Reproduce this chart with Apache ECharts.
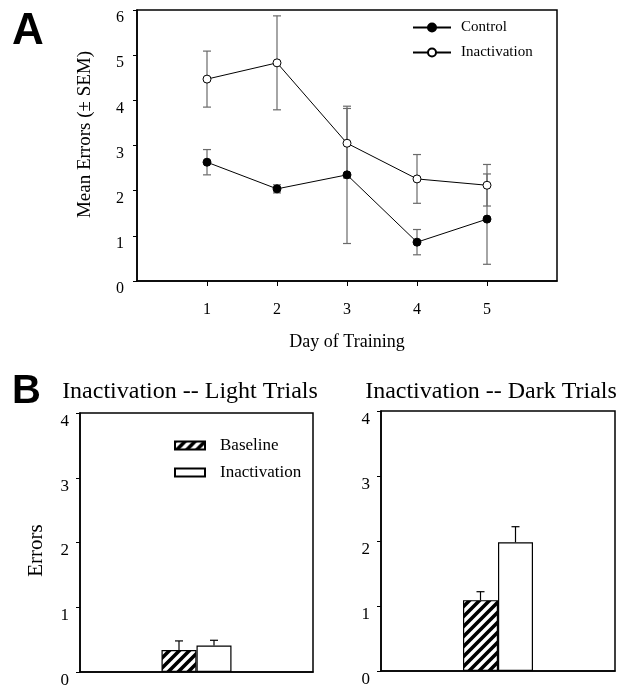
<!DOCTYPE html>
<html><head><meta charset="utf-8">
<script src="https://cdn.jsdelivr.net/npm/echarts@6/dist/echarts.min.js"></script>
<style>html,body{margin:0;padding:0;background:#fff}#c{width:622px;height:689px}</style>
</head><body><div id="c"></div>
<script>
// ---- Data ----
const days = [1, 2, 3, 4, 5];
const controlMean = [2.63, 2.04, 2.35, 0.86, 1.37];
const controlSEM  = [0.28, 0.09, 1.52, 0.28, 1.00];
const inactMean   = [4.47, 4.83, 3.05, 2.26, 2.12];
const inactSEM    = [0.62, 1.04, 0.77, 0.54, 0.46];
const yTicksA = [0, 1, 2, 3, 4, 5, 6];
const xTicksA = [1, 2, 3, 4, 5];
const yTicksB = [0, 1, 2, 3, 4];

const lightCategory = ['Light'];
const lightBaseline = [0.34];
const lightBaselineSEM = [0.14];
const lightInact = [0.41];
const lightInactSEM = [0.08];

const darkCategory = ['Dark'];
const darkBaseline = [1.09];
const darkBaselineSEM = [0.13];
const darkInact = [1.98];
const darkInactSEM = [0.24];

// ---- Styling ----
const SERIF = "'Liberation Serif', 'Times New Roman', serif";
const SANS = "'Liberation Sans', Arial, sans-serif";
const BAR_W = 35;

function hatch() {
  const c = document.createElement('canvas');
  c.width = 10; c.height = 10;
  const g = c.getContext('2d');
  g.fillStyle = '#fff'; g.fillRect(0, 0, 10, 10);
  g.strokeStyle = '#000'; g.lineWidth = 3.6; g.lineCap = 'square';
  [[-5, 5, 5, -5], [0, 10, 10, 0], [5, 15, 15, 5]].forEach(l => {
    g.beginPath(); g.moveTo(l[0], l[1]); g.lineTo(l[2], l[3]); g.stroke();
  });
  return c;
}
const hatchFill = { image: hatch(), repeat: 'repeat' };

function errA(params, api) {
  const x = api.value(0), m = api.value(1), s = api.value(2);
  const t = api.coord([x, m + s]), b = api.coord([x, m - s]);
  const hw = 4, st = { stroke: '#6a6a6a', lineWidth: 1.2 };
  return { type: 'group', children: [
    { type: 'line', shape: { x1: t[0], y1: t[1], x2: b[0], y2: b[1] }, style: st },
    { type: 'line', shape: { x1: t[0] - hw, y1: t[1], x2: t[0] + hw, y2: t[1] }, style: st },
    { type: 'line', shape: { x1: b[0] - hw, y1: b[1], x2: b[0] + hw, y2: b[1] }, style: st }
  ]};
}
function errB(dx) {
  return function (params, api) {
    const c = api.value(0), m = api.value(1), s = api.value(2);
    const p = api.coord([c, m]), t = api.coord([c, m + s]);
    const x = p[0] + dx, hw = 4, st = { stroke: '#000', lineWidth: 1.2 };
    return { type: 'group', children: [
      { type: 'line', shape: { x1: x, y1: p[1], x2: x, y2: t[1] }, style: st },
      { type: 'line', shape: { x1: x - hw, y1: t[1], x2: x + hw, y2: t[1] }, style: st }
    ]};
  };
}

const axisLineBlack = { show: true, lineStyle: { color: '#000', width: 1.5 } };
const gridCommon = { show: true, borderColor: '#000', borderWidth: 1.5, backgroundColor: 'transparent' };

function yAxisB(gridIndex, name) {
  return {
    type: 'value', gridIndex, min: 0, max: 4, interval: 1,
    name: name, nameLocation: 'middle', nameGap: 33,
    nameTextStyle: { fontFamily: SERIF, fontSize: 21, color: '#000', padding: [0, 16, 0, 0] },
    axisLine: axisLineBlack,
    axisTick: { show: true, inside: false, length: 4, lineStyle: { color: '#000' } },
    axisLabel: { fontFamily: SERIF, fontSize: 17, color: '#000', margin: 11, verticalAlign: 'top',
      formatter: v => yTicksB.includes(v) ? String(v) : '' },
    splitLine: { show: false }
  };
}
function xAxisB(gridIndex, cats) {
  return { type: 'category', gridIndex, data: cats,
    axisLine: axisLineBlack, axisTick: { show: false }, axisLabel: { show: false } };
}

const option = {
  animation: false,
  backgroundColor: '#fff',
  grid: [
    Object.assign({ left: 137, top: 10, width: 420, height: 271 }, gridCommon),
    Object.assign({ left: 80, top: 413, width: 233, height: 259 }, gridCommon),
    Object.assign({ left: 381, top: 411, width: 234, height: 260 }, gridCommon)
  ],
  xAxis: [
    {
      type: 'value', gridIndex: 0, min: 0, max: 6, interval: 1,
      name: 'Day of Training', nameLocation: 'middle', nameGap: 52,
      nameTextStyle: { fontFamily: SERIF, fontSize: 18, color: '#000' },
      axisLine: axisLineBlack,
      axisTick: { show: true, inside: false, length: 5, customValues: xTicksA, lineStyle: { color: '#000' } },
      axisLabel: { customValues: xTicksA, fontFamily: SERIF, fontSize: 16, color: '#000', margin: 21, verticalAlign: 'top' },
      splitLine: { show: false }
    },
    xAxisB(1, lightCategory),
    xAxisB(2, darkCategory)
  ],
  yAxis: [
    {
      type: 'value', gridIndex: 0, min: 0, max: 6, interval: 1,
      name: 'Mean Errors (\u00b1 SEM)', nameLocation: 'middle', nameGap: 42,
      nameTextStyle: { fontFamily: SERIF, fontSize: 19, color: '#000', padding: [0, 0, 0, 22] },
      axisLine: axisLineBlack,
      axisTick: { show: true, inside: false, length: 4, lineStyle: { color: '#000' } },
      axisLabel: { fontFamily: SERIF, fontSize: 16, color: '#000', margin: 13, verticalAlign: 'top',
        formatter: v => yTicksA.includes(v) ? String(v) : '' },
      splitLine: { show: false }
    },
    yAxisB(1, 'Errors'),
    yAxisB(2, '')
  ],
  legend: [
    {
      left: 412, top: 20, orient: 'vertical', padding: 0, itemGap: 10,
      itemWidth: 38, itemHeight: 10,
      data: ['Control', 'Inactivation'],
      textStyle: { fontFamily: SERIF, fontSize: 15, color: '#000', padding: [0, 0, 0, 5] },
      selectedMode: false
    },
    {
      left: 174, top: 437, orient: 'vertical', padding: 0, itemGap: 10,
      itemWidth: 30, itemHeight: 8, icon: 'rect',
      data: ['Baseline', 'Inactivation '],
      formatter: n => n.trim(),
      textStyle: { fontFamily: SERIF, fontSize: 17, color: '#000', padding: [0, 0, 0, 10] },
      selectedMode: false
    }
  ],
  graphic: [
    { type: 'text', left: 12, top: 10, style: { text: 'A', font: 'bold 44px ' + SANS, fill: '#000' } },
    { type: 'text', left: 12, top: 372, style: { text: 'B', font: 'bold 40px ' + SANS, fill: '#000' } },
    { type: 'text', x: 190, y: 392, style: { text: 'Inactivation -- Light Trials', font: '24px ' + SERIF, fill: '#000', textAlign: 'center', textVerticalAlign: 'middle' } },
    { type: 'text', x: 491, y: 392, style: { text: 'Inactivation -- Dark Trials', font: '24px ' + SERIF, fill: '#000', textAlign: 'center', textVerticalAlign: 'middle' } }
  ],
  series: [
    {
      type: 'custom', name: 'errControl', xAxisIndex: 0, yAxisIndex: 0, z: 1,
      data: days.map((d, i) => [d, controlMean[i], controlSEM[i]]), renderItem: errA
    },
    {
      type: 'custom', name: 'errInact', xAxisIndex: 0, yAxisIndex: 0, z: 1,
      data: days.map((d, i) => [d, inactMean[i], inactSEM[i]]), renderItem: errA
    },
    {
      type: 'line', name: 'Control', xAxisIndex: 0, yAxisIndex: 0, z: 3,
      data: days.map((d, i) => [d, controlMean[i]]),
      symbol: 'circle', symbolSize: 8,
      lineStyle: { color: '#000', width: 1 },
      itemStyle: { color: '#000', borderColor: '#000', borderWidth: 1 }
    },
    {
      type: 'line', name: 'Inactivation', xAxisIndex: 0, yAxisIndex: 0, z: 3,
      data: days.map((d, i) => [d, inactMean[i]]),
      symbol: 'circle', symbolSize: 8,
      lineStyle: { color: '#000', width: 1 },
      itemStyle: { color: '#fff', borderColor: '#000', borderWidth: 1 }
    },
    {
      type: 'bar', name: 'Baseline', xAxisIndex: 1, yAxisIndex: 1, data: lightBaseline,
      barWidth: BAR_W, barGap: '0%',
      itemStyle: { color: hatchFill, borderColor: '#000', borderWidth: 1.2 }
    },
    {
      type: 'bar', name: 'Inactivation ', xAxisIndex: 1, yAxisIndex: 1, data: lightInact,
      barWidth: BAR_W, barGap: '0%',
      itemStyle: { color: '#fff', borderColor: '#000', borderWidth: 1.2 }
    },
    {
      type: 'custom', name: 'errLightB', xAxisIndex: 1, yAxisIndex: 1,
      data: lightCategory.map((c, i) => [i, lightBaseline[i], lightBaselineSEM[i]]), renderItem: errB(-BAR_W / 2)
    },
    {
      type: 'custom', name: 'errLightI', xAxisIndex: 1, yAxisIndex: 1,
      data: lightCategory.map((c, i) => [i, lightInact[i], lightInactSEM[i]]), renderItem: errB(BAR_W / 2)
    },
    {
      type: 'bar', name: 'Baseline dark', xAxisIndex: 2, yAxisIndex: 2, data: darkBaseline,
      barWidth: BAR_W, barGap: '0%',
      itemStyle: { color: hatchFill, borderColor: '#000', borderWidth: 1.2 }
    },
    {
      type: 'bar', name: 'Inactivation dark', xAxisIndex: 2, yAxisIndex: 2, data: darkInact,
      barWidth: BAR_W, barGap: '0%',
      itemStyle: { color: '#fff', borderColor: '#000', borderWidth: 1.2 }
    },
    {
      type: 'custom', name: 'errDarkB', xAxisIndex: 2, yAxisIndex: 2,
      data: darkCategory.map((c, i) => [i, darkBaseline[i], darkBaselineSEM[i]]), renderItem: errB(-BAR_W / 2)
    },
    {
      type: 'custom', name: 'errDarkI', xAxisIndex: 2, yAxisIndex: 2,
      data: darkCategory.map((c, i) => [i, darkInact[i], darkInactSEM[i]]), renderItem: errB(BAR_W / 2)
    }
  ]
};

const chart = echarts.init(document.getElementById('c'), null, { renderer: 'canvas' });
chart.setOption(option);
</script>
</body></html>
